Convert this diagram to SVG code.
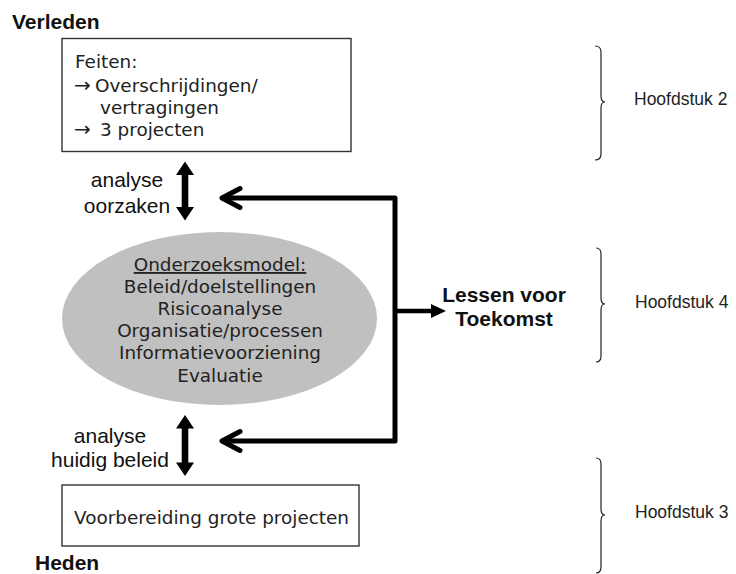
<svg xmlns="http://www.w3.org/2000/svg" width="736" height="574" viewBox="0 0 736 574">
<style>
.box{fill:#fff;stroke:#333;stroke-width:1.4}
.v{font-family:"DejaVu Sans",Verdana,sans-serif;font-size:18.4px;fill:#222}
.ar{font-family:"DejaVu Sans",Verdana,sans-serif;font-size:20px;fill:#222}
.a{font-family:"Liberation Sans",Arial,sans-serif;font-size:21px;fill:#111}
.b{font-family:"Liberation Sans",Arial,sans-serif;font-size:21px;font-weight:bold;fill:#111}
.h{font-family:"Liberation Sans",Arial,sans-serif;font-size:17.5px;fill:#222}
.brace{fill:none;stroke:#222;stroke-width:1.2}
.conn{fill:none;stroke:#000;stroke-width:5;stroke-linecap:round;stroke-linejoin:round}
</style>
<rect width="736" height="574" fill="#fff"/>
<text class="b" x="12" y="29">Verleden</text>
<text class="b" x="35" y="570">Heden</text>
<g id="feiten">
<rect class="box" x="62" y="38.5" width="289" height="113"/>
<text class="v" x="75" y="68">Feiten:</text>
<text class="ar" x="74" y="92">→</text>
<text class="v" x="95" y="92">Overschrijdingen/</text>
<text class="v" x="100" y="114">vertragingen</text>
<text class="ar" x="74" y="136">→</text>
<text class="v" x="100" y="136">3 projecten</text>
</g>
<g id="onderzoeksmodel">
<ellipse cx="219.5" cy="318.5" rx="157.5" ry="86.5" fill="#c0c0c0"/>
<g class="v" text-anchor="middle">
<text x="220" y="271" text-decoration="underline">Onderzoeksmodel:</text>
<text x="220" y="293">Beleid/doelstellingen</text>
<text x="220" y="315">Risicoanalyse</text>
<text x="220" y="337">Organisatie/processen</text>
<text x="220" y="359">Informatievoorziening</text>
<text x="220" y="381.5">Evaluatie</text>
</g>
</g>
<g id="voorbereiding">
<rect class="box" x="62" y="485" width="297" height="61"/>
<text class="v" x="74" y="524">Voorbereiding grote projecten</text>
</g>
<g id="lessen">
<text class="b" x="504" y="302" text-anchor="middle">Lessen voor</text>
<text class="b" x="504" y="326" text-anchor="middle">Toekomst</text>
</g>
<g id="label-oorzaken">
<text class="a" x="127" y="187" text-anchor="middle">analyse</text>
<text class="a" x="127" y="213" text-anchor="middle">oorzaken</text>
</g>
<g id="label-huidig">
<text class="a" x="110" y="443" text-anchor="middle">analyse</text>
<text class="a" x="110" y="467" text-anchor="middle">huidig beleid</text>
</g>
<g id="hoofdstukken">
<path class="brace" d="M595,46 Q601,46 601,52 L601,96 Q601,102 605,102 Q601,102 601,108 L601,154 Q601,160 595,160"/>
<text class="h" x="634" y="105">Hoofdstuk 2</text>
<path class="brace" d="M596,248 Q601,248 601,254 L601,298 Q601,304 605,304 Q601,304 601,310 L601,356 Q601,362 596,362"/>
<text class="h" x="635" y="308">Hoofdstuk 4</text>
<path class="brace" d="M596,458 Q601,458 601,464 L601,509 Q601,515 605,515 Q601,515 601,521 L601,567 Q601,573 596,573"/>
<text class="h" x="635" y="518">Hoofdstuk 3</text>
</g>
<g id="connectors">
<path d="M185,161.5 L194,175 L188.3,175 L188.3,207 L194,207 L185,220.5 L176,207 L181.7,207 L181.7,175 L176,175 Z" fill="#000"/>
<path d="M185,415 L194,428.5 L188.3,428.5 L188.3,462.5 L194,462.5 L185,476 L176,462.5 L181.7,462.5 L181.7,428.5 L176,428.5 Z" fill="#000"/>
<path class="conn" d="M223,198 L395,198 L395,441 L223,441"/>
<path class="conn" d="M240,188.5 L222,198 L240,207.5"/>
<path class="conn" d="M240,431.5 L222,441 L240,450.5"/>
<path d="M395,311 L433,311" stroke="#000" stroke-width="4.5" fill="none"/>
<path d="M431,304 L446,311 L431,318 Z" fill="#000"/>
</g>
</svg>
